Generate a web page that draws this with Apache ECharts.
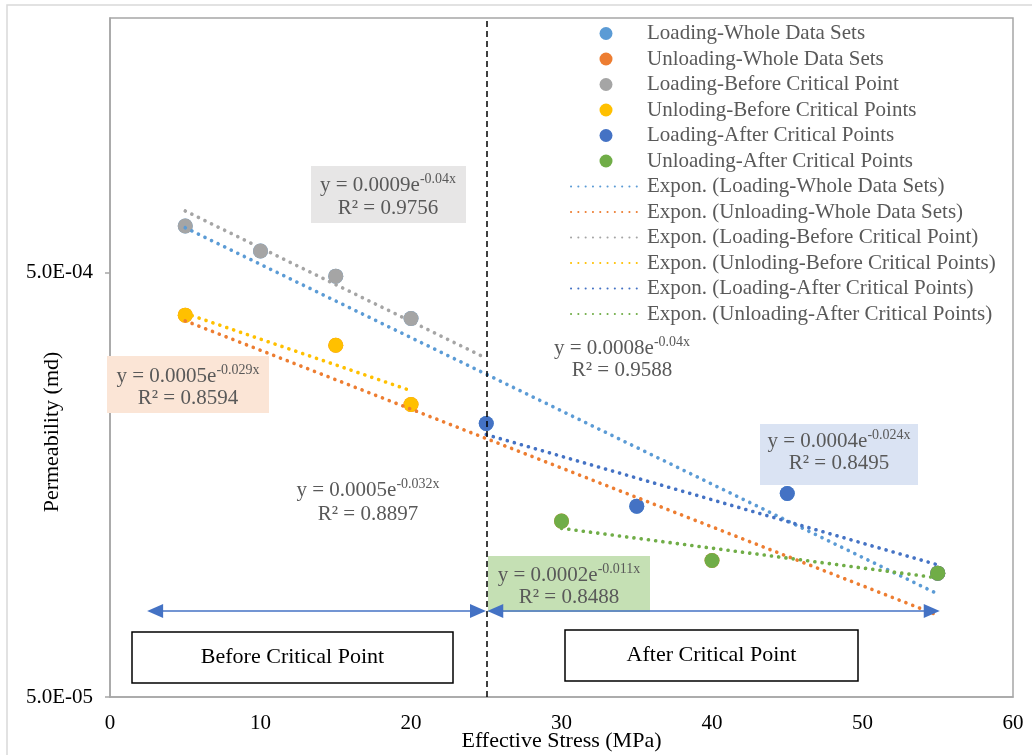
<!DOCTYPE html>
<html>
<head>
<meta charset="UTF-8">
<title>Permeability vs Effective Stress</title>
<style>
  html, body { margin: 0; padding: 0; background: #fff; }
  #main { width: 1032px; height: 755px; }
</style>
</head>
<body>
<div id="main"></div>
<script src="https://cdn.jsdelivr.net/npm/echarts@6.0.0/dist/echarts.min.js"></script>
<script>
// 数据
var loadWholeX = [5, 10, 15, 20, 25, 35, 45, 55];
var loadWholeY = [6.46e-4, 5.64e-4, 4.92e-4, 3.91e-4, 2.21e-4, 1.41e-4, 1.51e-4, 9.8e-5];
var unloadWholeX = [5, 15, 20, 30, 40, 55];
var unloadWholeY = [3.98e-4, 3.38e-4, 2.45e-4, 1.30e-4, 1.05e-4, 9.8e-5];
var loadBeforeX = [5, 10, 15, 20];
var loadBeforeY = [6.46e-4, 5.64e-4, 4.92e-4, 3.91e-4];
var unloadBeforeX = [5, 15, 20];
var unloadBeforeY = [3.98e-4, 3.38e-4, 2.45e-4];
var loadAfterX = [25, 35, 45, 55];
var loadAfterY = [2.21e-4, 1.41e-4, 1.51e-4, 9.8e-5];
var unloadAfterX = [30, 40, 55];
var unloadAfterY = [1.30e-4, 1.05e-4, 9.8e-5];

// 趋势线端点
var trendLoadWholeX = [5, 55];
var trendLoadWholeY = [6.40e-4, 8.75e-5];
var trendUnloadWholeX = [5, 55];
var trendUnloadWholeY = [3.86e-4, 7.8e-5];
var trendLoadBeforeX = [5, 25];
var trendLoadBeforeY = [7.01e-4, 3.15e-4];
var trendUnloadBeforeX = [5, 20];
var trendUnloadBeforeY = [4.02e-4, 2.64e-4];
var trendLoadAfterX = [25, 55];
var trendLoadAfterY = [2.08e-4, 1.025e-4];
var trendUnloadAfterX = [30, 55];
var trendUnloadAfterY = [1.25e-4, 9.55e-5];

var seriesNames = ['Loading-Whole Data Sets', 'Unloading-Whole Data Sets', 'Loading-Before Critical Point',
  'Unloding-Before Critical Points', 'Loading-After Critical Points', 'Unloading-After Critical Points'];
var colors = ['#5B9BD5', '#ED7D31', '#A5A5A5', '#FFC000', '#4472C4', '#70AD47'];

// 临界点 & 箭头
var criticalX = 25;
var arrowY = 7.98e-5;
var arrowBefore = [3.0, 24.45];
var arrowAfter = [25.6, 54.6];

var xTicks = { min: 0, max: 60, step: 10 };
var yRange = { min: 5e-5, max: 2e-3 };

function zip(xs, ys) {
  return xs.map(function (x, i) { return [x, ys[i]]; });
}

function sci(v) {
  var e = Math.floor(Math.log10(v) + 1e-9);
  var m = v / Math.pow(10, e);
  var a = Math.abs(e);
  return m.toFixed(1) + 'E' + (e < 0 ? '-' : '+') + (a < 10 ? '0' : '') + a;
}

var font = '"Liberation Serif", "Times New Roman", serif';

var pointSets = [
  [loadWholeX, loadWholeY], [unloadWholeX, unloadWholeY], [loadBeforeX, loadBeforeY],
  [unloadBeforeX, unloadBeforeY], [loadAfterX, loadAfterY], [unloadAfterX, unloadAfterY]
];
var trendSets = [
  [trendLoadWholeX, trendLoadWholeY], [trendUnloadWholeX, trendUnloadWholeY], [trendLoadBeforeX, trendLoadBeforeY],
  [trendUnloadBeforeX, trendUnloadBeforeY], [trendLoadAfterX, trendLoadAfterY], [trendUnloadAfterX, trendUnloadAfterY]
];

var series = [];
var legendData = [];
pointSets.forEach(function (p, i) {
  series.push({
    name: seriesNames[i],
    type: 'scatter',
    data: zip(p[0], p[1]),
    symbolSize: 15,
    itemStyle: { color: colors[i], opacity: 1 },
    z: 2
  });
  legendData.push(seriesNames[i]);
});
trendSets.forEach(function (t, i) {
  var name = 'Expon. (' + seriesNames[i] + ')';
  series.push({
    name: name,
    type: 'line',
    data: zip(t[0], t[1]),
    symbol: 'none',
    itemStyle: { color: colors[i], opacity: 0 },
    lineStyle: { color: colors[i], width: 3.6, type: [0.1, 7.2], cap: 'round' },
    z: 3,
    silent: true
  });
  legendData.push(name);
});

// 临界线和箭头
series.push({
  type: 'line',
  data: [],
  silent: true,
  markLine: {
    silent: true,
    symbol: ['none', 'none'],
    label: { show: false },
    lineStyle: { color: '#000', type: [6, 4], width: 1.5 },
    data: [{ xAxis: criticalX }]
  }
});
series.push({
  type: 'line',
  data: [],
  silent: true,
  markLine: {
    silent: true,
    symbol: ['triangle', 'triangle'],
    symbolSize: [14, 16],
    label: { show: false },
    lineStyle: { color: '#4472C4', type: 'solid', width: 1.5 },
    itemStyle: { color: '#4472C4' },
    data: [
      [{ coord: [arrowBefore[0], arrowY] }, { coord: [arrowBefore[1], arrowY] }],
      [{ coord: [arrowAfter[0], arrowY] }, { coord: [arrowAfter[1], arrowY] }]
    ]
  }
});

// 趋势线公式
function eqLabel(cx, y1, y2, a, b, r2, box) {
  var els = [];
  if (box) {
    els.push({ type: 'rect', shape: { x: box[0], y: box[1], width: box[2], height: box[3] },
      style: { fill: box[4] }, z: 5 });
  }
  els.push({
    type: 'text', x: cx, y: y1, z: 6,
    style: {
      text: '{m|y = ' + a + 'e}{s|' + b + '}',
      align: 'center', verticalAlign: 'middle',
      rich: {
        m: { fontFamily: font, fontSize: 21, lineHeight: 24, fill: '#595959', verticalAlign: 'bottom' },
        s: { fontFamily: font, fontSize: 14, lineHeight: 14, fill: '#595959', verticalAlign: 'top' }
      }
    }
  });
  els.push({
    type: 'text', x: cx, y: y2, z: 6,
    style: { text: 'R² = ' + r2, align: 'center', verticalAlign: 'middle',
      fontFamily: font, fontSize: 21, fill: '#595959' }
  });
  return els;
}

var graphics = [];
graphics.push({ type: 'rect', shape: { x: 7, y: 5, width: 1040, height: 770 },
  style: { fill: 'none', stroke: '#D9D9D9', lineWidth: 1.5 }, z: 0, silent: true });
graphics = graphics.concat(eqLabel(388, 184, 208, '0.0009', '-0.04x', '0.9756', [311, 166, 155, 57, '#E7E6E6']));
graphics = graphics.concat(eqLabel(188, 375, 398, '0.0005', '-0.029x', '0.8594', [107, 356, 162, 57, '#FBE5D6']));
graphics = graphics.concat(eqLabel(368, 489, 514, '0.0005', '-0.032x', '0.8897', null));
graphics = graphics.concat(eqLabel(622, 347, 370, '0.0008', '-0.04x', '0.9588', null));
graphics = graphics.concat(eqLabel(839, 440, 463, '0.0004', '-0.024x', '0.8495', [760, 424, 158, 61, '#DAE3F3']));
graphics = graphics.concat(eqLabel(569, 574, 597, '0.0002', '-0.011x', '0.8488', [488, 556, 162, 56, '#C5E0B4']));

// y轴标题
graphics.push({
  type: 'text', x: 52, y: 432, rotation: Math.PI / 2, z: 6,
  style: { text: 'Permeability (md)', align: 'center', verticalAlign: 'middle',
    fontFamily: font, fontSize: 22, fill: '#000' }
});

// 文本框
function textBox(x, y, w, h, txt) {
  return [
    { type: 'rect', shape: { x: x, y: y, width: w, height: h },
      style: { fill: '#fff', stroke: '#000', lineWidth: 1.5 }, z: 7 },
    { type: 'text', x: x + w / 2, y: y + h / 2, z: 8,
      style: { text: txt, align: 'center', verticalAlign: 'middle', fontFamily: font, fontSize: 22, fill: '#000' } }
  ];
}
graphics = graphics.concat(textBox(132, 632, 321, 51, 'Before Critical Point'));
graphics = graphics.concat(textBox(565, 630, 293, 51, 'After Critical Point'));

var chart = echarts.init(document.getElementById('main'));

var option = {
  animation: false,
  backgroundColor: '#fff',
  color: colors,
  grid: {
    left: 110, right: 19, top: 18, bottom: 58,
    outerBoundsMode: 'none',
    containLabel: false,
    show: true, borderColor: '#A6A6A6', borderWidth: 1.5, backgroundColor: 'transparent'
  },
  legend: {
    orient: 'vertical',
    left: 570, top: 23,
    padding: 0,
    itemGap: 4.5,
    itemWidth: 70,
    itemHeight: 13,
    selectedMode: false,
    textStyle: { fontFamily: font, fontSize: 21, color: '#595959', padding: [0, 0, 0, 1] },
    data: legendData
  },
  xAxis: {
    type: 'value',
    min: xTicks.min, max: xTicks.max, interval: xTicks.step,
    name: 'Effective Stress (MPa)',
    nameLocation: 'middle',
    nameGap: 33,
    nameMoveOverlap: false,
    nameTextStyle: { fontFamily: font, fontSize: 22, color: '#000', verticalAlign: 'top' },
    axisLine: { show: true, lineStyle: { color: '#A6A6A6', width: 1.5 } },
    axisTick: { show: false },
    splitLine: { show: false },
    axisLabel: { fontFamily: font, fontSize: 21, color: '#000', margin: 16 }
  },
  yAxis: {
    type: 'log',
    logBase: 10,
    min: yRange.min, max: yRange.max,
    interval: 1,
    axisLine: { show: true, lineStyle: { color: '#A6A6A6', width: 1.5 } },
    axisTick: { show: true, length: 5, lineStyle: { color: '#A6A6A6', width: 1.5 } },
    splitLine: { show: false },
    minorTick: { show: false },
    axisLabel: {
      fontFamily: font, fontSize: 21, color: '#000', margin: 17, showMaxLabel: false,
      formatter: function (v) { return v > 1e-3 ? '' : sci(v); }
    }
  },
  graphic: graphics,
  series: series
};

chart.setOption(option);
</script>
</body>
</html>
